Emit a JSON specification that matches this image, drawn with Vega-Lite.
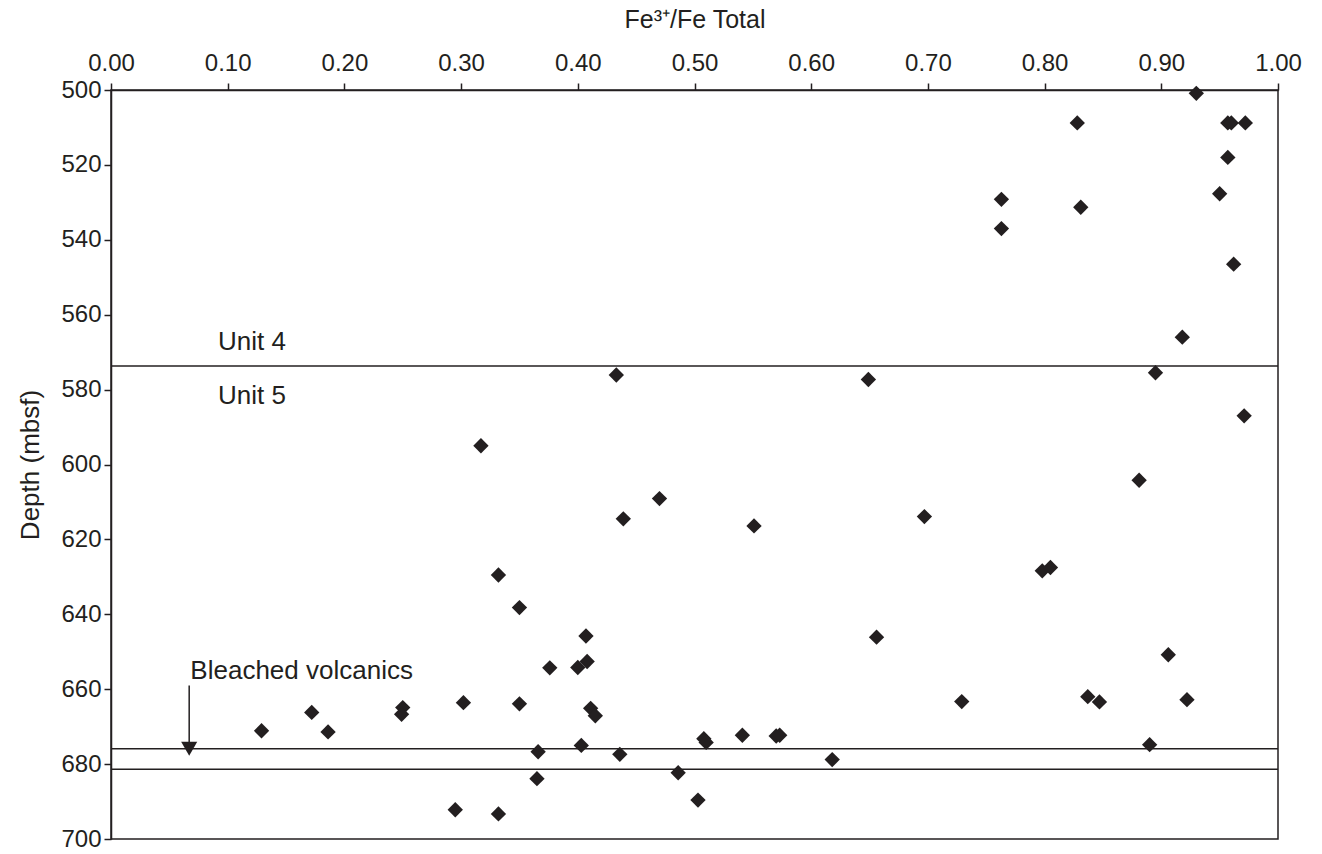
{
  "$schema": "https://vega.github.io/schema/vega-lite/v6.json",
  "width": 1167,
  "height": 749,
  "autosize": "none",
  "padding": {"left": 111, "top": 90, "right": 44, "bottom": 15},
  "background": "white",
  "config": {
    "font": "Liberation Sans",
    "view": {"stroke": "#231f20", "strokeWidth": 1.5},
    "axis": {
      "grid": false,
      "domainColor": "#231f20",
      "domainWidth": 1.5,
      "tickColor": "#231f20",
      "tickWidth": 1.5,
      "tickSize": 7,
      "labelFont": "Liberation Sans",
      "labelFontSize": 24,
      "labelColor": "#231f20",
      "labelFlush": false,
      "labelOverlap": false,
      "titleFont": "Liberation Sans",
      "titleFontSize": 25,
      "titleFontWeight": "normal",
      "titleColor": "#231f20"
    }
  },
  "datasets": {
    "points": [
      {"fe": 0.930, "depth": 500.9},
      {"fe": 0.828, "depth": 508.8},
      {"fe": 0.957, "depth": 508.8},
      {"fe": 0.960, "depth": 508.8},
      {"fe": 0.972, "depth": 508.8},
      {"fe": 0.957, "depth": 518.0},
      {"fe": 0.950, "depth": 527.7},
      {"fe": 0.763, "depth": 529.2},
      {"fe": 0.831, "depth": 531.3},
      {"fe": 0.763, "depth": 537.0},
      {"fe": 0.962, "depth": 546.5},
      {"fe": 0.918, "depth": 566.0},
      {"fe": 0.895, "depth": 575.5},
      {"fe": 0.971, "depth": 587.0},
      {"fe": 0.881, "depth": 604.2},
      {"fe": 0.798, "depth": 628.4},
      {"fe": 0.805, "depth": 627.5},
      {"fe": 0.906, "depth": 650.8},
      {"fe": 0.837, "depth": 662.0},
      {"fe": 0.847, "depth": 663.4},
      {"fe": 0.922, "depth": 662.8},
      {"fe": 0.890, "depth": 674.8},
      {"fe": 0.433, "depth": 576.1},
      {"fe": 0.649, "depth": 577.3},
      {"fe": 0.317, "depth": 595.0},
      {"fe": 0.470, "depth": 609.1},
      {"fe": 0.439, "depth": 614.5},
      {"fe": 0.551, "depth": 616.4},
      {"fe": 0.697, "depth": 613.9},
      {"fe": 0.332, "depth": 629.5},
      {"fe": 0.350, "depth": 638.2},
      {"fe": 0.407, "depth": 645.8},
      {"fe": 0.656, "depth": 646.1},
      {"fe": 0.376, "depth": 654.3},
      {"fe": 0.400, "depth": 654.2},
      {"fe": 0.408, "depth": 652.6},
      {"fe": 0.411, "depth": 665.1},
      {"fe": 0.415, "depth": 667.1},
      {"fe": 0.403, "depth": 675.0},
      {"fe": 0.436, "depth": 677.4},
      {"fe": 0.486, "depth": 682.3},
      {"fe": 0.503, "depth": 689.6},
      {"fe": 0.508, "depth": 673.2},
      {"fe": 0.510, "depth": 674.2},
      {"fe": 0.541, "depth": 672.3},
      {"fe": 0.570, "depth": 672.5},
      {"fe": 0.573, "depth": 672.3},
      {"fe": 0.618, "depth": 678.8},
      {"fe": 0.729, "depth": 663.3},
      {"fe": 0.129, "depth": 671.1},
      {"fe": 0.172, "depth": 666.2},
      {"fe": 0.186, "depth": 671.4},
      {"fe": 0.250, "depth": 664.9},
      {"fe": 0.249, "depth": 666.7},
      {"fe": 0.302, "depth": 663.6},
      {"fe": 0.350, "depth": 663.9},
      {"fe": 0.366, "depth": 676.7},
      {"fe": 0.365, "depth": 683.9},
      {"fe": 0.295, "depth": 692.2},
      {"fe": 0.332, "depth": 693.3}
    ],
    "boundaries": [
      {"depth": 573.7},
      {"depth": 675.9},
      {"depth": 681.4}
    ],
    "labels": [
      {"fe": 0.0917, "depth": 567.2, "label": "Unit 4"},
      {"fe": 0.0917, "depth": 581.6, "label": "Unit 5"},
      {"fe": 0.068, "depth": 655.1, "label": "Bleached volcanics"}
    ],
    "arrow": [
      {"fe": 0.067, "top": 659.0, "bottom": 675.0, "tip": 675.9}
    ]
  },
  "layer": [
    {
      "data": {"name": "boundaries"},
      "mark": {"type": "rule", "color": "#231f20", "strokeWidth": 1.5},
      "encoding": {
        "y": {
          "field": "depth",
          "type": "quantitative",
          "scale": {"domain": [500, 700], "reverse": true, "nice": false, "zero": false},
          "axis": {
            "title": "Depth (mbsf)",
            "titleFontSize": 26,
            "values": [500, 520, 540, 560, 580, 600, 620, 640, 660, 680, 700],
            "format": "d",
            "labelPadding": 3,
            "titlePadding": 17
          }
        }
      }
    },
    {
      "data": {"name": "points"},
      "mark": {"type": "point", "shape": "diamond", "filled": true, "size": 235, "color": "#231f20", "opacity": 1},
      "encoding": {
        "x": {
          "field": "fe",
          "type": "quantitative",
          "scale": {"domain": [0, 1], "nice": false, "zero": false},
          "axis": {
            "orient": "top",
            "title": "Fe³⁺/Fe Total",
            "values": [0, 0.1, 0.2, 0.3, 0.4, 0.5, 0.6, 0.7, 0.8, 0.9, 1.0],
            "format": ".2f",
            "labelPadding": 8,
            "titlePadding": 19
          }
        },
        "y": {"field": "depth", "type": "quantitative"}
      }
    },
    {
      "data": {"name": "labels"},
      "mark": {"type": "text", "align": "left", "baseline": "middle", "fontSize": 26, "color": "#231f20", "font": "Liberation Sans"},
      "encoding": {
        "x": {"field": "fe", "type": "quantitative"},
        "y": {"field": "depth", "type": "quantitative"},
        "text": {"field": "label"}
      }
    },
    {
      "data": {"name": "arrow"},
      "mark": {"type": "rule", "color": "#231f20", "strokeWidth": 1.5},
      "encoding": {
        "x": {"field": "fe", "type": "quantitative"},
        "y": {"field": "top", "type": "quantitative"},
        "y2": {"field": "bottom"}
      }
    },
    {
      "data": {"name": "arrow"},
      "mark": {"type": "point", "shape": "triangle-down", "filled": true, "size": 260, "color": "#231f20", "opacity": 1},
      "encoding": {
        "x": {"field": "fe", "type": "quantitative"},
        "y": {"field": "tip", "type": "quantitative"}
      }
    }
  ]
}
